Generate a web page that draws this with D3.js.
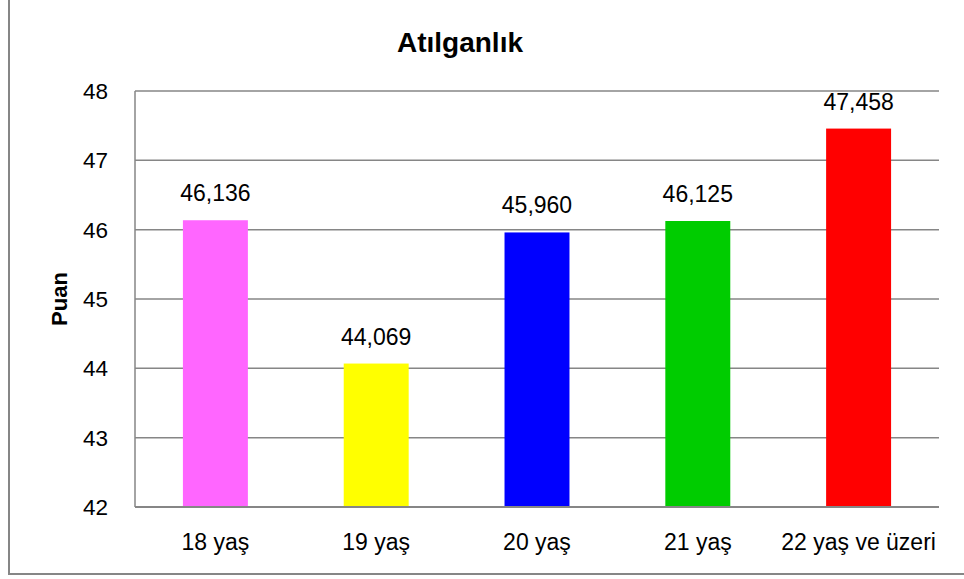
<!DOCTYPE html>
<html>
<head>
<meta charset="utf-8">
<script src="https://cdn.jsdelivr.net/npm/d3@7"></script>
<style>
  body { margin: 0; background: #fff; }
  text { font-family: "Liberation Sans", Arial, sans-serif; fill: #000; }
</style>
</head>
<body>
<div id="chart"></div>
<script>
// data
let categories = ["18 yaş", "19 yaş", "20 yaş", "21 yaş", "22 yaş ve üzeri"];
let values = [46.136, 44.069, 45.960, 46.125, 47.458];
let valueLabels = ["46,136", "44,069", "45,960", "46,125", "47,458"];
let barColors = ["#FF66FF", "#FFFF00", "#0000FF", "#00CC00", "#FF0000"];
let yTicks = [42, 43, 44, 45, 46, 47, 48];

let W = 964, H = 579;
let plot = { left: 135, right: 939, top: 91, bottom: 507 };

let svg = d3.select("#chart").append("svg")
  .attr("width", W)
  .attr("height", H);

// outer frame (runs off the top and right edge)
svg.append("rect")
  .attr("x", 9)
  .attr("y", -10)
  .attr("width", 1000)
  .attr("height", 584)
  .attr("fill", "none")
  .attr("stroke", "#868686")
  .attr("stroke-width", 2);

let x = d3.scaleBand()
  .domain(categories)
  .range([plot.left, plot.right])
  .paddingInner(0.596)
  .paddingOuter(0.298);

let y = d3.scaleLinear()
  .domain([42, 48])
  .range([plot.bottom, plot.top]);

// gridlines
svg.append("g").selectAll("line").data(yTicks.slice(1)).enter().append("line")
  .attr("x1", plot.left)
  .attr("x2", plot.right)
  .attr("y1", d => y(d))
  .attr("y2", d => y(d))
  .attr("stroke", "#868686")
  .attr("stroke-width", 1.5);

// bars
svg.append("g").selectAll("rect").data(values).enter().append("rect")
  .attr("x", (d, i) => x(categories[i]))
  .attr("y", d => y(d))
  .attr("width", x.bandwidth())
  .attr("height", d => y(42) - y(d))
  .attr("fill", (d, i) => barColors[i]);

// axes lines
svg.append("line")
  .attr("x1", plot.left).attr("x2", plot.left)
  .attr("y1", plot.top).attr("y2", plot.bottom)
  .attr("stroke", "#868686").attr("stroke-width", 1.5);
svg.append("line")
  .attr("x1", plot.left).attr("x2", plot.right)
  .attr("y1", plot.bottom).attr("y2", plot.bottom)
  .attr("stroke", "#868686").attr("stroke-width", 2);

// y tick labels
svg.append("g").selectAll("text").data(yTicks).enter().append("text")
  .attr("x", 108)
  .attr("y", d => y(d) + 8)
  .text(d => d)
  .style("text-anchor", "end")
  .style("font-size", "22.5px");

// value labels
svg.append("g").selectAll("text").data(values).enter().append("text")
  .attr("x", (d, i) => x(categories[i]) + x.bandwidth() / 2)
  .attr("y", d => y(d) - 19)
  .text((d, i) => valueLabels[i])
  .style("text-anchor", "middle")
  .style("font-size", "23px");

// category labels
svg.append("g").selectAll("text").data(categories).enter().append("text")
  .attr("x", d => x(d) + x.bandwidth() / 2)
  .attr("y", 550)
  .text(d => d)
  .style("text-anchor", "middle")
  .style("font-size", "23px");

// title
svg.append("text")
  .attr("x", 460)
  .attr("y", 52)
  .text("Atılganlık")
  .style("text-anchor", "middle")
  .style("font-size", "28px")
  .style("font-weight", "bold");

// y axis title
svg.append("text")
  .attr("transform", "translate(67,299) rotate(-90)")
  .text("Puan")
  .style("text-anchor", "middle")
  .style("font-size", "22px")
  .style("font-weight", "bold");
</script>
</body>
</html>
